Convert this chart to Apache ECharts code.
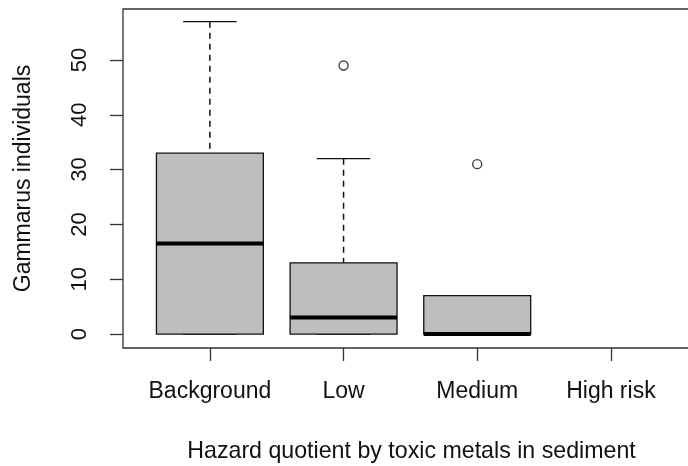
<!DOCTYPE html>
<html>
<head>
<meta charset="utf-8">
<script src="https://cdn.jsdelivr.net/npm/echarts@6/dist/echarts.min.js"></script>
<style>
html,body{margin:0;padding:0;background:#fff;}
#chart{width:688px;height:466px;}
</style>
</head>
<body>
<div id="chart"></div>
<script>
// ---- data ----
const categories = ['Background', 'Low', 'Medium', 'High risk'];
const whiskerLow = [0, 0, 0];
const q1 = [0, 0, 0];
const median = [16.5, 3, 0];
const q3 = [33, 13, 7];
const whiskerHigh = [57, 32, 7];
const outliers = [[2, 49], [3, 31]];
const yTicks = [0, 10, 20, 30, 40, 50];
const xLabel = 'Hazard quotient by toxic metals in sediment';
const yLabel = 'Gammarus individuals';

const boxData = whiskerLow.map((v, i) => [i + 1, v, q1[i], median[i], q3[i], whiskerHigh[i]]);
const xTicks = categories.map((c, i) => i + 1);

const FONT = '"Liberation Sans", Arial, sans-serif';
const INK = '#111';

const chart = echarts.init(document.getElementById('chart'), null, {renderer: 'canvas'});

function renderBox(params, api) {
  const x = api.value(0);
  const lo = api.value(1), b1 = api.value(2), md = api.value(3), b3 = api.value(4), hi = api.value(5);
  const unit = api.size([1, 0])[0];
  const bw = unit * 0.4, cw = unit * 0.2;
  const pHi = api.coord([x, hi]), pQ3 = api.coord([x, b3]), pMd = api.coord([x, md]);
  const pQ1 = api.coord([x, b1]), pLo = api.coord([x, lo]);
  const thin = {stroke: INK, lineWidth: 1.3};
  const children = [
    {type: 'line', shape: {x1: pHi[0], y1: pHi[1], x2: pQ3[0], y2: pQ3[1]},
     style: {stroke: INK, lineWidth: 1.5, lineDash: [6, 5]}},
    {type: 'line', shape: {x1: pLo[0], y1: pLo[1], x2: pQ1[0], y2: pQ1[1]},
     style: {stroke: INK, lineWidth: 1.5, lineDash: [6, 5]}},
    {type: 'line', shape: {x1: pHi[0] - cw, y1: pHi[1], x2: pHi[0] + cw, y2: pHi[1]}, style: thin},
    {type: 'line', shape: {x1: pLo[0] - cw, y1: pLo[1], x2: pLo[0] + cw, y2: pLo[1]}, style: thin},
    {type: 'rect', shape: {x: pQ3[0] - bw, y: pQ3[1], width: 2 * bw, height: pQ1[1] - pQ3[1]},
     style: {fill: '#bebebe', stroke: INK, lineWidth: 1.3}},
    {type: 'line', shape: {x1: pMd[0] - bw, y1: pMd[1], x2: pMd[0] + bw, y2: pMd[1]},
     style: {stroke: '#000', lineWidth: 4}}
  ];
  return {type: 'group', children: children};
}

chart.setOption({
  animation: false,
  backgroundColor: '#fff',
  grid: {
    left: 123, top: 9, width: 577, height: 339,
    containLabel: false, outerBoundsMode: 'none',
    show: true, borderColor: '#333', borderWidth: 1.3, backgroundColor: 'transparent'
  },
  xAxis: {
    type: 'value', min: 0.35, max: 0.35 + 577 / 133.67,
    name: xLabel, nameLocation: 'middle', nameGap: 92,
    nameTextStyle: {fontFamily: FONT, fontSize: 23.2, color: INK},
    axisLine: {show: false, onZero: false},
    splitLine: {show: false},
    axisTick: {show: true, length: 13, customValues: xTicks, lineStyle: {color: '#333', width: 1.3}},
    axisLabel: {
      customValues: xTicks, margin: 32, fontFamily: FONT, fontSize: 23, color: INK,
      formatter: v => categories[Math.round(v) - 1] || ''
    }
  },
  yAxis: {
    type: 'value', min: -2.55, max: 59.31,
    name: yLabel, nameLocation: 'middle', nameGap: 88, nameRotate: 90,
    nameTextStyle: {fontFamily: FONT, fontSize: 23, color: INK},
    axisLine: {show: false, onZero: false},
    splitLine: {show: false},
    axisTick: {show: true, length: 13, customValues: yTicks, lineStyle: {color: '#333', width: 1.3}},
    axisLabel: {customValues: yTicks, rotate: 90, margin: 32, fontFamily: FONT, fontSize: 22, color: INK}
  },
  series: [
    {type: 'custom', renderItem: renderBox, data: boxData, encode: {x: 0, y: [1, 2, 3, 4, 5]}, clip: false},
    {type: 'scatter', data: outliers, symbol: 'circle', symbolSize: 9,
     itemStyle: {color: 'rgba(0,0,0,0)', borderColor: INK, borderWidth: 1.4}}
  ]
});
</script>
</body>
</html>
